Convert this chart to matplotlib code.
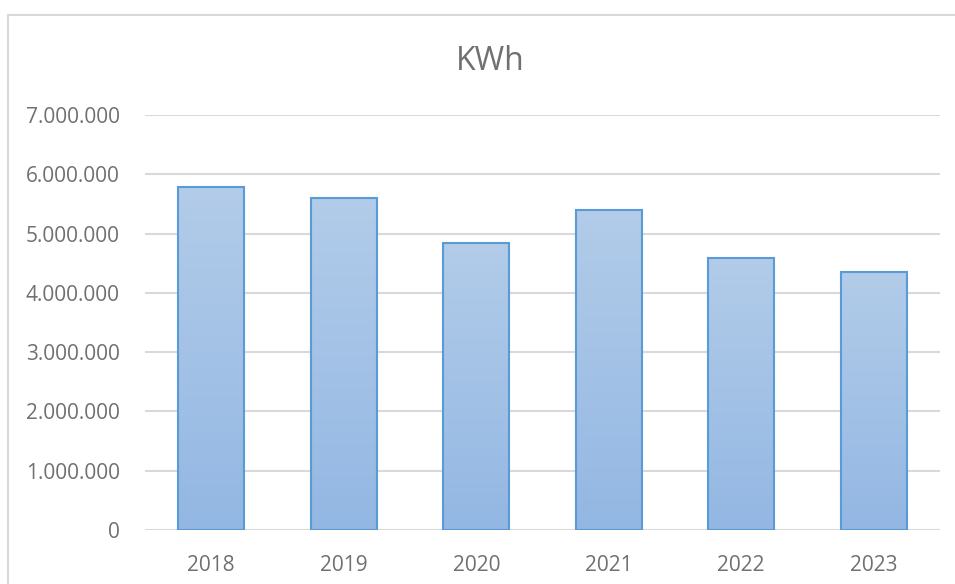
import matplotlib
matplotlib.use("Agg")
import matplotlib.pyplot as plt
import numpy as np
from matplotlib.colors import LinearSegmentedColormap
from matplotlib.patches import Rectangle
from matplotlib.ticker import FuncFormatter, MultipleLocator

# ------------------------- Data -------------------------
years = ["2018", "2019", "2020", "2021", "2022", "2023"]
kwh = [5785000, 5600000, 4840000, 5400000, 4590000, 4350000]
title = "KWh"

# ------------------------- Style -------------------------
plt.rcParams["font.family"] = ["Open Sans", "DejaVu Sans"]
text_col = "#707070"
grid_col = "#d9d9d9"
edge_col = "#5b9bd5"
grad = LinearSegmentedColormap.from_list("bar_grad", ["#93b7e3", "#b2cce9"])

W, H = 955, 584
fig = plt.figure(figsize=(W / 100, H / 100), dpi=100)

# chart frame (runs off the right / bottom edge like the screenshot)
fig.patches.append(Rectangle((8 / W, -0.1), 1.2, 1 - 15 / H + 0.1,
                             transform=fig.transFigure, fill=False,
                             edgecolor=grid_col, linewidth=1.5))

ax = fig.add_axes([145 / W, (H - 530) / H, (940 - 145) / W, (530 - 115) / H])
x = np.arange(len(years))
bars = ax.bar(x, kwh, width=0.5, facecolor="none", edgecolor=edge_col,
              linewidth=1.5, zorder=3)

gradient = np.linspace(0, 1, 256).reshape(-1, 1)
for b in bars:
    bx, by = b.get_x(), b.get_y()
    bw, bh = b.get_width(), b.get_height()
    im = ax.imshow(gradient, cmap=grad, aspect="auto", origin="lower",
                   extent=(bx, bx + bw, by, by + bh), zorder=2)
    im.set_clip_path(b)

ax.set_xlim(-0.5, len(years) - 0.5)
ax.set_ylim(0, 7000000)
ax.yaxis.set_major_locator(MultipleLocator(1000000))
ax.yaxis.set_major_formatter(FuncFormatter(lambda v, _: f"{int(v):,}".replace(",", ".")))
ax.set_xticks(x)
ax.set_xticklabels(years)
ax.grid(axis="y", color=grid_col, linewidth=1.5, zorder=0)
ax.set_axisbelow(True)
for s in ax.spines.values():
    s.set_visible(False)
ax.tick_params(axis="both", length=0, colors=text_col, labelsize=15)
ax.tick_params(axis="y", pad=18)
ax.tick_params(axis="x", pad=18)

fig.text(490 / W, 1 - 62 / H, title, ha="center", va="center",
         fontsize=23, color=text_col)

fig.savefig("out.png", dpi=100)
